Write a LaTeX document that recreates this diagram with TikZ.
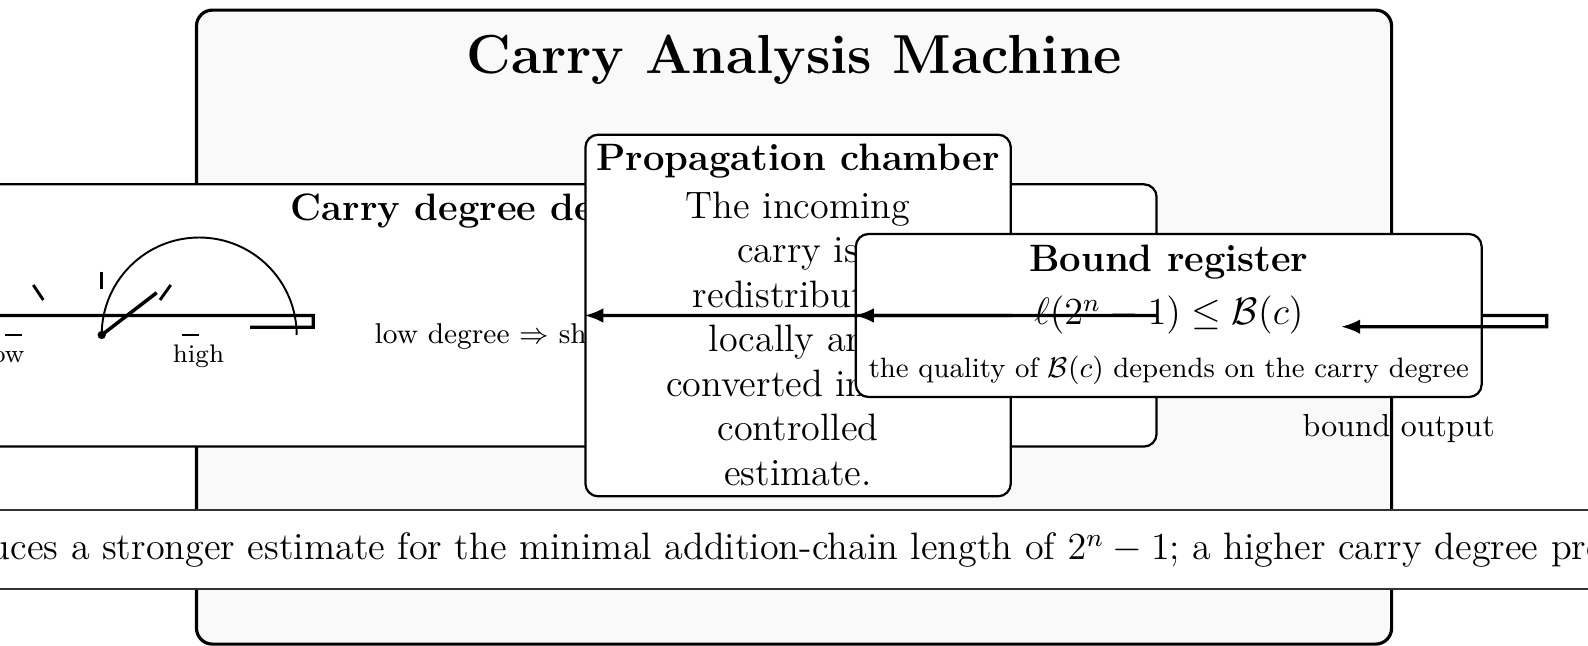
\documentclass[tikz,border=0pt]{standalone}
\usetikzlibrary{arrows.meta,fit}
\hyphenpenalty=10000
\exhyphenpenalty=10000
\definecolor{machinefill}{gray}{0.975}
\tikzset{
  machine/.style={draw, line width=1pt, rounded corners=5pt, fill=machinefill, inner sep=0pt},
  panel/.style={draw, line width=0.7pt, rounded corners=4pt, fill=white, inner sep=0pt},
  flow/.style={line width=1pt, -{Latex[length=6pt,width=4.6pt]}},
  wire/.style={line width=1pt},
  tickmark/.style={line width=0.9pt},
  dialarc/.style={line width=0.6pt},
  band/.style={draw=black!80, line width=0.6pt, fill=white, inner sep=0pt},
  lbl/.style={inner sep=0pt},
}
\begin{document}
\begin{tikzpicture}[x=0.3142pt,y=-0.3142pt]
\useasboundingbox (0,0) rectangle (1588,646);
% outer machine
\node[machine, fit={(196.5,10.1) (1391.6,644.1)}] (machine) {};
\node[lbl, font=\LARGE\bfseries, anchor=base] (title) at (794,74) {Carry Analysis Machine};
% carry degree panel
\node[panel, fit={(-165,184.3) (1156.6,446.6)}] (carry) {};
\node[lbl, font=\large\bfseries, anchor=base west] (carrytitle) at (290,221) {Carry degree detector};
\node[lbl, font=\small, anchor=base west] (lowtext) at (374,344) {low degree $\Rightarrow$ sharp bound};
% dial
\coordinate (piv) at (101.7,335);
\draw[dialarc] (piv) arc[start angle=180, end angle=0, radius=30.63pt];
\draw[tickmark] (5,335) -- (21.7,335);
\draw[tickmark] (33.3,285) -- (43.3,300);
\draw[tickmark] (101.7,271.7) -- (101.7,289.3);
\draw[tickmark] (160,300) -- (170.7,285);
\draw[tickmark] (181.7,335) -- (199,335);
\coordinate (needletip) at (156.7,292.7);
\draw[line width=1.1pt] (piv) -- (needletip);
\fill (piv) circle[radius=1.3pt];
\node[lbl, font=\footnotesize, anchor=base] (low) at (4.5,363) {low};
\node[lbl, font=\footnotesize, anchor=base] (high) at (198.5,363) {high};
\coordinate (gaugeend) at (250,327.3);
\draw[wire] (carry.west) -- (313.3,315.45) -- (313.3,327.3) -- (gaugeend);
% propagation chamber
\node[panel, fit={(585.4,134.7) (1010.8,496.3)}] (prop) {};
\node[lbl, font=\large\bfseries, anchor=base] (proptitle) at (798,171) {Propagation chamber};
\node[lbl, font=\large, align=center, anchor=north] (propbody) at (798,191)
  {The incoming\\carry is\\redistributed\\locally and\\converted into a\\controlled\\estimate.};
% bound register
\node[panel, fit={(855.8,234) (1481.7,397)}] (bound) {};
\node[lbl, font=\large\bfseries, anchor=base] (boundtitle) at (1168.8,271.5) {Bound register};
\node[lbl, font=\large, anchor=base] (boundmath) at (1168.8,325) {$\ell(2^n-1)\le\mathcal{B}(c)$};
\node[lbl, font=\fontsize{8.8}{10.5}\selectfont, anchor=base] (boundnote) at (1168.8,377.8) {the quality of $\mathcal{B}(c)$ depends on the carry degree};
% banner
\node[band, fit={(-40,509.7) (1630,589.4)}] (bandbox) {};
\node[lbl, font=\large, anchor=base west] (note) at (10,560)
  {\llap{A low carry degree produ}ces a stronger estimate for the minimal addition-chain length of $2^n-1$; a higher carry degree produces a weaker one.};
% connectors
\draw[flow] (carry.east) -- (prop.west);
\draw[flow] (prop.east) -- (bound.west);
\coordinate (outtip) at (1341,326.7);
\draw[flow] (bound.east) -- (1546.7,315.5) -- (1546.7,326.7) -- (outtip);
\node[lbl, font=\normalsize, anchor=base] (outlabel) at (1398.7,437) {bound output};
\end{tikzpicture}
\end{document}
